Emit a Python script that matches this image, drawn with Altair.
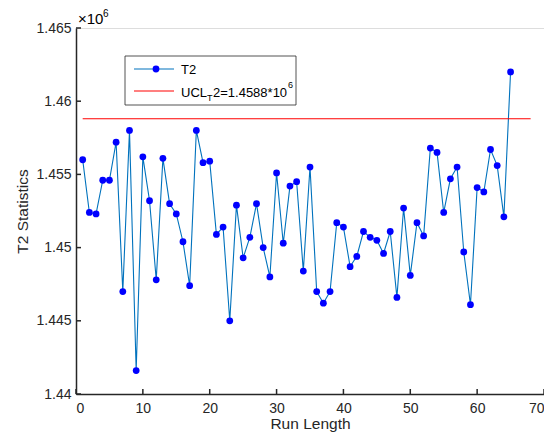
import altair as alt
import pandas as pd

run = list(range(1, 66))
t2 = [1.4560, 1.4524, 1.4523, 1.4546, 1.4546, 1.4572, 1.4470, 1.4580, 1.4416, 1.4562,
      1.4532, 1.4478, 1.4561, 1.4530, 1.4523, 1.4504, 1.4474, 1.4580, 1.4558, 1.4559,
      1.4509, 1.4514, 1.4450, 1.4529, 1.4493, 1.4507, 1.4530, 1.4500, 1.4480, 1.4551,
      1.4503, 1.4542, 1.4545, 1.4484, 1.4555, 1.4470, 1.4462, 1.4470, 1.4517, 1.4514,
      1.4487, 1.4494, 1.4511, 1.4507, 1.4505, 1.4496, 1.4511, 1.4466, 1.4527, 1.4481,
      1.4517, 1.4508, 1.4568, 1.4565, 1.4524, 1.4547, 1.4555, 1.4497, 1.4461, 1.4541,
      1.4538, 1.4567, 1.4556, 1.4521, 1.4620]
ucl = 1.4588
ucl_span = [1, 68]
x_ticks = [0, 10, 20, 30, 40, 50, 60, 70]
y_ticks = [1.44, 1.445, 1.45, 1.455, 1.46, 1.465]

FONT = "Liberation Sans"
AX = "#262626"
W, H = 468, 366

df = pd.DataFrame({"run": run, "t2": t2})
ucl_df = pd.DataFrame({"run": [ucl_span[0]], "run2": [ucl_span[1]], "t2": [ucl]})
yt_df = pd.DataFrame({"t2": y_ticks})
xt_df = pd.DataFrame({"run": x_ticks})
one = pd.DataFrame({"a": [0]})

xs = alt.Scale(domain=[0, 70], nice=False)
ys = alt.Scale(domain=[1.44, 1.465], nice=False, zero=False)
xaxis = alt.Axis(values=x_ticks, title="Run Length", tickSize=0, labelPadding=7,
                 titleY=37, titleBaseline="bottom", grid=False, domainColor=AX,
                 domainWidth=1.5, labelColor=AX, labelFontSize=14, titleFontSize=15.5,
                 titleColor=AX, titleFontWeight="normal", labelFont=FONT, titleFont=FONT)
yaxis = alt.Axis(values=y_ticks, format=".4~f", title="T2 Statistics", tickSize=0,
                 labelPadding=5, titlePadding=5, grid=False, domainColor=AX,
                 domainWidth=1.5, labelColor=AX, labelFontSize=14, titleFontSize=15.5,
                 titleColor=AX, titleFontWeight="normal", labelFont=FONT, titleFont=FONT)
X = alt.X("run:Q", scale=xs, axis=xaxis)
Y = alt.Y("t2:Q", scale=ys, axis=yaxis)

line = alt.Chart(df).mark_line(color="#0072BD", strokeWidth=1.1).encode(x=X, y=Y)
pts = alt.Chart(df).mark_circle(color="#0000FF", opacity=1, size=46).encode(x=X, y=Y)
ucl_line = alt.Chart(ucl_df).mark_rule(color="#FF0000", strokeWidth=1.1).encode(
    x=X, x2="run2:Q", y=Y)
yticks = alt.Chart(yt_df).mark_rule(color=AX, strokeWidth=1.5).encode(
    y=Y, x=alt.value(0), x2=alt.value(5))
xticks = alt.Chart(xt_df).mark_rule(color=AX, strokeWidth=1.5).encode(
    x=X, y=alt.value(H), y2=alt.value(H - 5))

def txt(s, x, y, size=13, align="left", baseline="middle"):
    return alt.Chart(one).mark_text(font=FONT, fontSize=size, color="#000000",
                                    align=align, baseline=baseline).encode(
        x=alt.value(x), y=alt.value(y), text=alt.value(s))

exp1 = txt("×10", 2, -9, 15)
exp2 = txt("6", 27, -14, 10)

box = alt.Chart(one).mark_rect(fill="white", stroke=AX, strokeWidth=0.8).encode(
    x=alt.value(49), x2=alt.value(220), y=alt.value(28), y2=alt.value(77))
leg_l1 = alt.Chart(one).mark_rule(color="#0072BD", strokeWidth=1.1).encode(
    x=alt.value(58), x2=alt.value(98), y=alt.value(41))
leg_p1 = alt.Chart(one).mark_circle(color="#0000FF", opacity=1, size=46).encode(
    x=alt.value(80), y=alt.value(41))
leg_l2 = alt.Chart(one).mark_rule(color="#FF0000", strokeWidth=1.1).encode(
    x=alt.value(58), x2=alt.value(98), y=alt.value(63))
t_a = txt("T2", 105, 42)
t_b = txt("UCL", 105, 65)
t_c = txt("T", 131, 70, 9)
t_d = txt("2=1.4588*10", 137, 65)
t_e = txt("6", 212, 57, 9)

chart = alt.layer(
    line, pts, ucl_line, yticks, xticks, exp1, exp2,
    box, leg_l1, leg_p1, leg_l2, t_a, t_b, t_c, t_d, t_e
).properties(
    width=W, height=H,
    autosize=alt.AutoSizeParams(type="none"),
    padding={"left": 68, "top": 20, "right": 0, "bottom": 38},
).configure_view(stroke=None).configure(font=FONT)

chart.save("out.html", embed_options={"renderer": "svg", "actions": False})
